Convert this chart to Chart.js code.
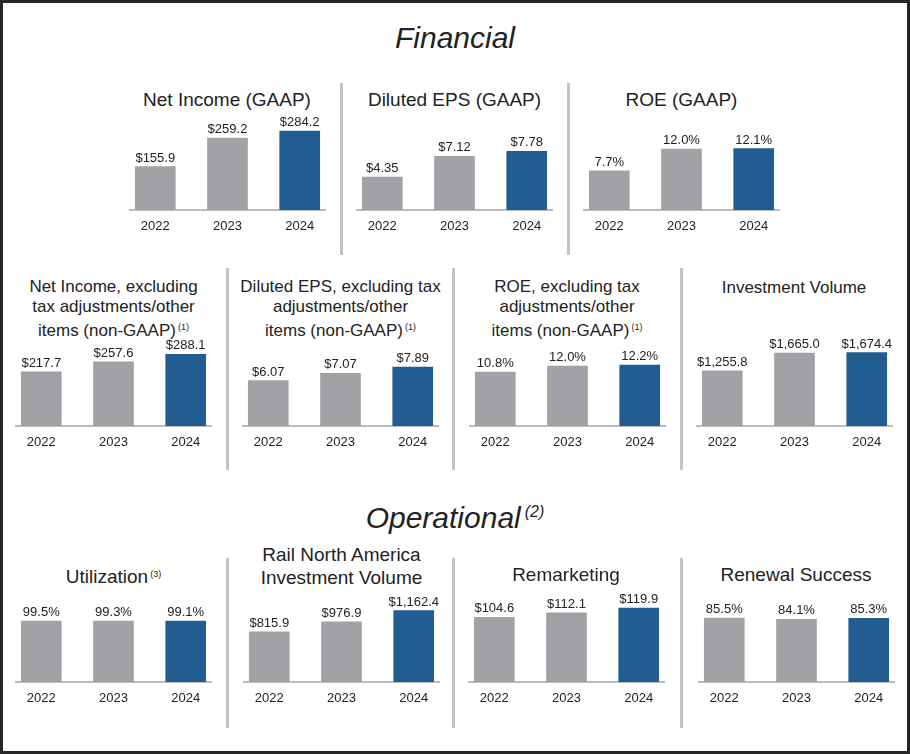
<!DOCTYPE html>
<html>
<head>
<meta charset="utf-8">
<script src="https://cdn.jsdelivr.net/npm/chart.js@4.4.1/dist/chart.umd.min.js"></script>
<style>
  body { margin: 0; background: #fff; font-family: "Liberation Sans", Arial, sans-serif; color: #222; }
  #frame { position: absolute; left: 0; top: 0; width: 910px; height: 754px; box-sizing: border-box; border: 3px solid #262626; }
  .section { position: absolute; left: 0; width: 910px; text-align: center; font-style: italic; font-size: 30px; line-height: 40px; }
  .section sup { font-size: 16px; vertical-align: 11px; margin-left: 4px; }
  .title { position: absolute; width: 227px; text-align: center; }
  .title sup { font-size: 9px; vertical-align: 6px; margin-left: 2px; }
  .sep { position: absolute; width: 3px; background: #c4c4c4; }
  canvas { position: absolute; }
</style>
</head>
<body>
<div id="frame"></div>
<div class="section" style="top:18px">Financial</div>
<div class="section" style="top:492px">Operational<sup>(2)</sup></div>
<div id="panels"></div>
<script>
  // Datos
  const years = ["2022", "2023", "2024"];
  const netIncomeGaap = [155.9, 259.2, 284.2];
  const dilutedEpsGaap = [4.35, 7.12, 7.78];
  const roeGaap = [7.7, 12.0, 12.1];
  const netIncomeAdj = [217.7, 257.6, 288.1];
  const dilutedEpsAdj = [6.07, 7.07, 7.89];
  const roeAdj = [10.8, 12.0, 12.2];
  const investmentVolume = [1255.8, 1665.0, 1674.4];
  const utilization = [99.5, 99.3, 99.1];
  const railInvestment = [815.9, 976.9, 1162.4];
  const remarketing = [104.6, 112.1, 119.9];
  const renewalSuccess = [85.5, 84.1, 85.3];

  const barColors = ["#a1a2a6", "#a1a2a6", "#225d91"];
  const plotHeight = 100;

  const panels = [
    // fila superior
    { values: netIncomeGaap, pre: "$", suf: "", dec: 1, yMax: 360, cx: 227, base: 210,
      title: "Net Income (GAAP)", tTop: 89, tSize: 19, tLine: 22 },
    { values: dilutedEpsGaap, pre: "$", suf: "", dec: 2, yMax: 13.25, cx: 454.5, base: 210,
      title: "Diluted EPS (GAAP)", tTop: 89, tSize: 19, tLine: 22 },
    { values: roeGaap, pre: "", suf: "%", dec: 1, yMax: 19.7, cx: 681.5, base: 210,
      title: "ROE (GAAP)", tTop: 89, tSize: 19, tLine: 22 },
    // fila media
    { values: netIncomeAdj, pre: "$", suf: "", dec: 1, yMax: 402, cx: 113.5, base: 426,
      title: "Net Income, excluding<br>tax adjustments/other<br>items (non-GAAP)<sup>(1)</sup>", tTop: 277, tSize: 17, tLine: 20 },
    { values: dilutedEpsAdj, pre: "$", suf: "", dec: 2, yMax: 13.4, cx: 340.5, base: 426,
      title: "Diluted EPS, excluding tax<br>adjustments/other<br>items (non-GAAP)<sup>(1)</sup>", tTop: 277, tSize: 17, tLine: 20 },
    { values: roeAdj, pre: "", suf: "%", dec: 1, yMax: 20, cx: 567, base: 426,
      title: "ROE, excluding tax<br>adjustments/other<br>items (non-GAAP)<sup>(1)</sup>", tTop: 277, tSize: 17, tLine: 20 },
    { values: investmentVolume, pre: "$", suf: "", dec: 1, yMax: 2280, cx: 794, base: 426,
      title: "Investment Volume", tTop: 278, tSize: 17, tLine: 20 },
    // fila inferior
    { values: utilization, pre: "", suf: "%", dec: 1, yMax: 163, cx: 113.5, base: 682,
      title: "Utilization<sup>(3)</sup>", tTop: 563, tSize: 19, tLine: 23 },
    { values: railInvestment, pre: "$", suf: "", dec: 1, yMax: 1626, cx: 341.5, base: 682,
      title: "Rail North America<br>Investment Volume", tTop: 543, tSize: 19, tLine: 23 },
    { values: remarketing, pre: "$", suf: "", dec: 1, yMax: 162, cx: 566, base: 682,
      title: "Remarketing", tTop: 563, tSize: 19, tLine: 23 },
    { values: renewalSuccess, pre: "", suf: "%", dec: 1, yMax: 134, cx: 796, base: 682,
      title: "Renewal Success", tTop: 563, tSize: 19, tLine: 23 },
  ];

  // separadores verticales
  const separators = [
    [340, 83, 172], [567, 83, 172],
    [226, 268, 202], [452, 268, 202], [680, 268, 202],
    [226, 558, 170], [452, 558, 170], [680, 558, 170],
  ];

  const host = document.getElementById("panels");

  separators.forEach(function (s) {
    const d = document.createElement("div");
    d.className = "sep";
    d.style.left = s[0] + "px";
    d.style.top = s[1] + "px";
    d.style.height = s[2] + "px";
    host.appendChild(d);
  });

  function fmt(p, v) {
    return p.pre + v.toLocaleString("en-US", { minimumFractionDigits: p.dec, maximumFractionDigits: p.dec }) + p.suf;
  }

  panels.forEach(function (p) {
    const t = document.createElement("div");
    t.className = "title";
    t.innerHTML = p.title;
    t.style.left = (p.cx - 113.5) + "px";
    t.style.top = p.tTop + "px";
    t.style.fontSize = p.tSize + "px";
    t.style.lineHeight = p.tLine + "px";
    host.appendChild(t);

    const c = document.createElement("canvas");
    c.width = 227;
    c.height = plotHeight + 30;
    c.style.left = (p.cx - 113.5) + "px";
    c.style.top = (p.base - plotHeight) + "px";
    host.appendChild(c);

    const valueLabels = {
      id: "valueLabels",
      afterDatasetsDraw(chart) {
        const ctx = chart.ctx;
        ctx.save();
        ctx.font = '13px "Liberation Sans", Arial, sans-serif';
        ctx.fillStyle = "#222";
        ctx.textAlign = "center";
        ctx.textBaseline = "alphabetic";
        chart.getDatasetMeta(0).data.forEach(function (bar, i) {
          ctx.fillText(fmt(p, p.values[i]), bar.x, bar.y - 5);
        });
        ctx.restore();
      },
    };

    new Chart(c, {
      type: "bar",
      data: {
        labels: years,
        datasets: [{
          data: p.values,
          backgroundColor: barColors,
          barThickness: 40,
        }],
      },
      options: {
        responsive: false,
        animation: false,
        layout: { padding: { left: 16, right: 16, top: 0, bottom: 0 } },
        plugins: {
          legend: { display: false },
          tooltip: { enabled: false },
        },
        scales: {
          x: {
            type: "linear",
            offset: false,
            bounds: "data",
            min: 2021.65,
            max: 2024.35,
            grid: { display: false, drawTicks: false, offset: false },
            border: { display: true, color: "#bcbcbc", width: 2 },
            afterBuildTicks: function (s) { s.ticks = years.map(function (y) { return { value: +y }; }); },
            afterFit: function (s) { s.height = 30; },
            ticks: {
              padding: 9,
              color: "#222",
              font: { size: 13, family: '"Liberation Sans", Arial, sans-serif' },
              callback: function (v) { return String(v); },
            },
          },
          y: { display: false, min: 0, max: p.yMax },
        },
      },
      plugins: [valueLabels],
    });
  });
</script>
</body>
</html>
